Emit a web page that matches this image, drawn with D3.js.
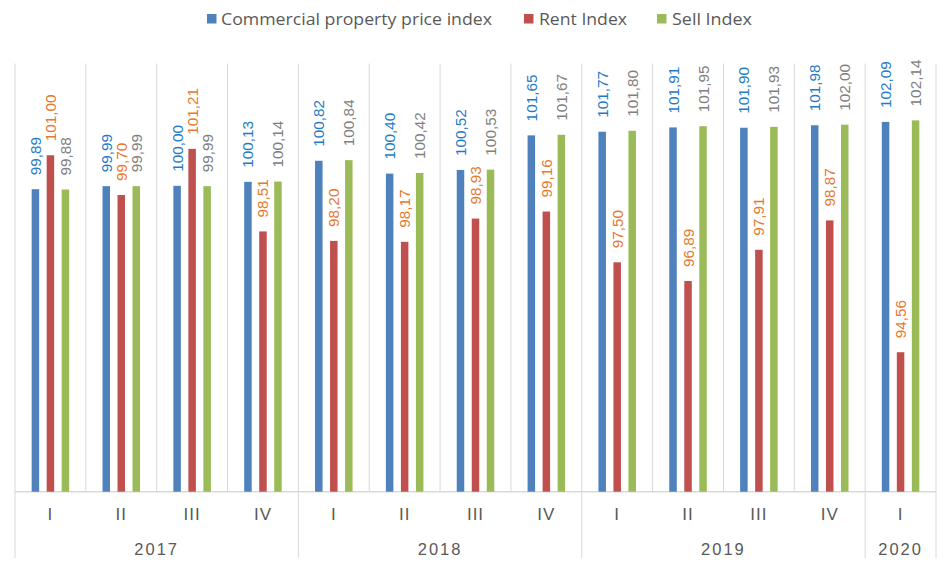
<!DOCTYPE html>
<html>
<head>
<meta charset="utf-8">
<script src="https://cdn.jsdelivr.net/npm/d3@7"></script>
<style>
  html, body { margin: 0; padding: 0; background: #ffffff; }
  svg { display: block; }
</style>
</head>
<body>
<svg id="chart" width="948" height="580"></svg>
<script>
const quarters = ["I", "II", "III", "IV", "I", "II", "III", "IV", "I", "II", "III", "IV", "I"];
const years = ["2017", "2018", "2019", "2020"];
const yearQuarterCounts = [4, 4, 4, 1];
const seriesNames = ["Commercial property price index", "Rent Index", "Sell Index"];
const commercialIndex = [99.89, 99.99, 100.00, 100.13, 100.82, 100.40, 100.52, 101.65, 101.77, 101.91, 101.90, 101.98, 102.09];
const rentIndex = [101.00, 99.70, 101.21, 98.51, 98.20, 98.17, 98.93, 99.16, 97.50, 96.89, 97.91, 98.87, 94.56];
const sellIndex = [99.88, 99.99, 99.99, 100.14, 100.84, 100.42, 100.53, 101.67, 101.80, 101.95, 101.93, 102.00, 102.14];
const yDomain = [90, 104];

(function () {
const seriesValues = [commercialIndex, rentIndex, sellIndex];
const barColors = ["#4F81BD", "#C0504D", "#9BBB59"];
const labelColors = ["#1F7BC8", "#E8782C", "#808080"];

const svg = d3.select("#chart");
const pLeft = 15, pRight = 936, pTop = 63.5, pBottom = 491.7;

const idx = d3.range(quarters.length);
const x = d3.scaleBand().domain(idx).range([pLeft, pRight]).padding(0);
const xInner = d3.scaleBand().domain(d3.range(3)).range([0, x.bandwidth()])
  .paddingInner(0.5).paddingOuter(1.11);
const y = d3.scaleLinear().domain(yDomain).range([pBottom, pTop]);

const grid = "#D9D9D9";

// vertical gridlines at category boundaries
const boundaries = idx.map(i => x(i)).concat([pRight]);
svg.append("g").selectAll("line").data(boundaries).join("line")
  .attr("x1", d => d).attr("x2", d => d)
  .attr("y1", pTop).attr("y2", pBottom)
  .attr("stroke", grid).attr("stroke-width", 1);

// baseline
svg.append("line").attr("x1", pLeft).attr("x2", pRight)
  .attr("y1", pBottom).attr("y2", pBottom)
  .attr("stroke", grid).attr("stroke-width", 1.5);

// year separators below axis
let acc = 0;
const yearStarts = yearQuarterCounts.map(c => { const s = acc; acc += c; return s; });
const yearBounds = yearStarts.map(s => x(s)).concat([pRight]);
svg.append("g").selectAll("line").data(yearBounds).join("line")
  .attr("x1", d => d).attr("x2", d => d)
  .attr("y1", pBottom).attr("y2", 558)
  .attr("stroke", grid).attr("stroke-width", 1);

// bars
const fmt = v => d3.format(".2f")(v).replace(".", ",");
seriesValues.forEach((vals, s) => {
  const g = svg.append("g");
  g.selectAll("rect").data(vals).join("rect")
    .attr("x", (d, i) => x(i) + xInner(s))
    .attr("width", xInner.bandwidth())
    .attr("y", d => y(d))
    .attr("height", d => pBottom - y(d))
    .attr("fill", barColors[s]);
  g.selectAll("text").data(vals).join("text")
    .attr("transform", (d, i) => `translate(${x(i) + xInner(s) + xInner.bandwidth() / 2},${y(d) - 14}) rotate(-90)`)
    .attr("text-anchor", "start")
    .attr("dy", "0.36em")
    .attr("font-family", "'Liberation Sans', Arial, sans-serif")
    .attr("font-size", 15.3)
    .attr("fill", labelColors[s])
    .text(d => fmt(d));
});

// quarter labels
svg.append("g").selectAll("text").data(quarters).join("text")
  .attr("x", (d, i) => x(i) + x.bandwidth() / 2)
  .attr("y", 520)
  .attr("text-anchor", "middle")
  .attr("font-family", "'Liberation Sans Narrow', 'Liberation Sans', Arial, sans-serif")
  .attr("font-size", 17)
  .attr("letter-spacing", 1)
  .attr("fill", "#595959")
  .text(d => d);

// year labels
svg.append("g").selectAll("text").data(years).join("text")
  .attr("x", (d, i) => (yearBounds[i] + yearBounds[i + 1]) / 2)
  .attr("y", 555)
  .attr("text-anchor", "middle")
  .attr("font-family", "'Liberation Sans Narrow', 'Liberation Sans', Arial, sans-serif")
  .attr("font-size", 16.5)
  .attr("letter-spacing", 2)
  .attr("fill", "#595959")
  .text(d => d);

// legend
const legendItems = [
  { sq: 207, tx: 221, w: 271 },
  { sq: 524, tx: 539, w: 88 },
  { sq: 657, tx: 672, w: 80 }
];
const lg = svg.append("g");
legendItems.forEach((it, s) => {
  lg.append("rect").attr("x", it.sq).attr("y", 14).attr("width", 9.5).attr("height", 9.5).attr("fill", barColors[s]);
  lg.append("text").attr("x", it.tx).attr("y", 24.5)
    .attr("font-family", "'Open Sans', sans-serif")
    .attr("font-size", 15.5)
    .attr("fill", "#595959")
    .attr("textLength", it.w).attr("lengthAdjust", "spacingAndGlyphs")
    .text(seriesNames[s]);
});
})();
</script>
</body>
</html>
